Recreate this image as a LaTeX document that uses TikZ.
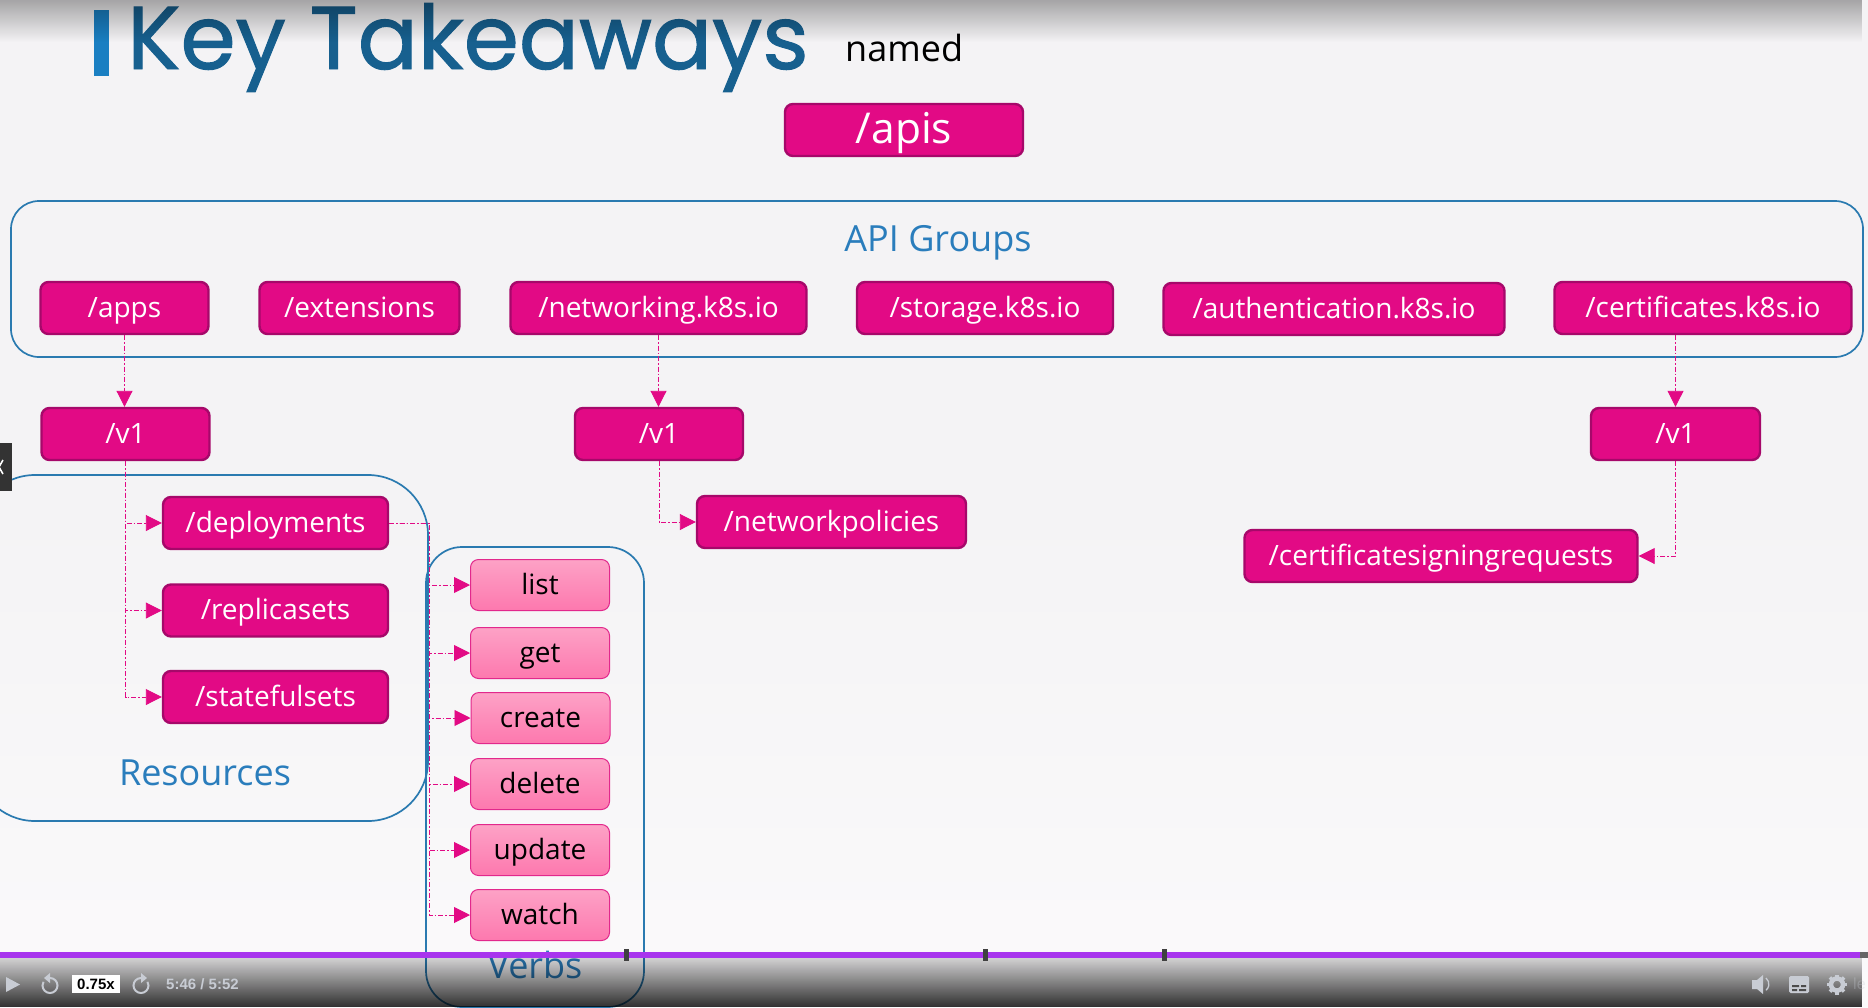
\documentclass[tikz,border=0pt]{standalone}
\usepackage{fontspec}
\setmainfont{Open Sans}
\newfontfamily\titlefont{Poppins}[FakeBold=1.1]
\newfontfamily\uifont{Liberation Sans}
\usetikzlibrary{arrows.meta,fadings}
\definecolor{mag}{HTML}{E20A85}
\definecolor{magedge}{HTML}{A6086A}
\definecolor{pinkedge}{HTML}{E2288C}
\definecolor{pinktop}{HTML}{FDA2C6}
\definecolor{pinkbot}{HTML}{FD78AE}
\definecolor{framecol}{HTML}{2A7AB0}
\definecolor{labelcol}{HTML}{2A7DBC}
\definecolor{titlecol}{HTML}{17608F}
\definecolor{barcol}{HTML}{1A7FC2}
\definecolor{bgcol}{HTML}{F4F3F5}
\definecolor{bglow}{HTML}{FBFAFB}
\definecolor{progress}{HTML}{A835EE}
\definecolor{iconcol}{HTML}{C8CCD4}
\tikzfading[name=ctlfade, top color=transparent!84, bottom color=transparent!19]
\tikzfading[name=topfade, top color=transparent!68, bottom color=transparent!100]
\tikzset{
  box/.style={draw=magedge, fill=mag, line width=2.4pt, rounded corners=8pt, text=white, inner sep=0pt,
    font=\fontsize{28}{34}\selectfont, text height=24pt, text depth=6pt, minimum height=52pt},
  verb/.style={draw=pinkedge, top color=pinktop, bottom color=pinkbot, line width=1pt, rounded corners=8pt, text=black, inner sep=0pt,
    font=\fontsize{28}{34}\selectfont, text height=24pt, text depth=6pt, minimum height=51pt, minimum width=139pt},
  conn/.style={draw=mag, line width=.9pt, dash pattern=on 5pt off 2pt on 1.5pt off 2pt,
    -{Triangle[length=16pt,width=16pt,fill=mag,sep=0pt]}},
  frame/.style={draw=framecol, line width=1.7pt},
  grouplabel/.style={text=labelcol, inner sep=0pt, font=\fontsize{36}{43}\selectfont},
  uitext/.style={inner sep=0pt, font=\uifont\bfseries\fontsize{15}{17}\selectfont},
  icon/.style={draw=iconcol, line width=2pt}
}
\begin{document}
\begin{tikzpicture}[x=1pt,y=-1pt]
\useasboundingbox (0,0) rectangle (1868,1007);
\clip (0,0) rectangle (1868,1007);
% background
\shade[top color=bgcol, bottom color=bglow, middle color=bgcol] (0,0) rectangle (1868,1007);
% title
\fill[barcol] (94,10) rectangle (109,76);
\node[anchor=base west, inner sep=0pt, text=titlecol, font=\titlefont\fontsize{89}{100}\selectfont] (title) at (127,69) {Key Takeaways};
\fill[black, path fading=topfade] (0,0) rectangle (1868,42);
\node[anchor=base west, inner sep=0pt, text=black, font=\fontsize{36}{43}\selectfont] (named) at (845,61) {named};
% containers
\draw[frame, rounded corners=28pt] (11,201) rectangle (1863,357);
\draw[frame, rounded corners=60pt] (-25,475) rectangle (428,821);
\draw[frame, rounded corners=36pt] (426,547) rectangle (644,1007);
\node[grouplabel] (lgroups) at (938,243) {API Groups};
\node[grouplabel, anchor=base] (lres) at (205,785) {Resources};
\node[grouplabel, anchor=base] (lverbs) at (535,978) {Verbs};
% nodes
\node[box, font=\fontsize{42.5}{50}\selectfont, text height=36pt, text depth=9pt, minimum width=238pt] (apis) at (904,130) {/apis};
\node[box, minimum width=168pt] (apps) at (124.5,308) {/apps};
\node[box, minimum width=200pt] (ext) at (359.5,308) {/extensions};
\node[box, minimum width=296pt] (net) at (658.5,308) {/networking.k8s.io};
\node[box, minimum width=256pt] (sto) at (985,308) {/storage.k8s.io};
\node[box, minimum width=341pt] (auth) at (1334,309) {/authentication.k8s.io};
\node[box, minimum width=297pt] (cert) at (1703,308) {/certificates.k8s.io};
\node[box, minimum width=168pt] (v1a) at (125.5,434) {/v1};
\node[box, minimum width=168pt] (v1b) at (659,434) {/v1};
\node[box, minimum width=169pt] (v1c) at (1675.5,434) {/v1};
\node[box, minimum width=225pt] (dep) at (275.5,523) {/deployments};
\node[box, minimum width=225pt] (rep) at (275.5,610.5) {/replicasets};
\node[box, minimum width=225pt] (sta) at (275.5,697) {/statefulsets};
\node[box, minimum width=269pt] (np) at (831.5,522) {/networkpolicies};
\node[box, minimum width=393pt] (csr) at (1441,556) {/certificatesigningrequests};
\node[verb] (list) at (540,585) {list};
\node[verb] (get) at (540,653) {get};
\node[verb] (create) at (540.5,718) {create};
\node[verb] (delete) at (540,784) {delete};
\node[verb] (update) at (540,850) {update};
\node[verb] (watch) at (540,915) {watch};
% connectors
\coordinate (trunk) at (429,523);
\draw[conn] (apps.south) -- (apps.south |- v1a.north);
\draw[conn] (net.south) -- (net.south |- v1b.north);
\draw[conn] (v1c.north |- cert.south) -- (v1c.north);
\draw[conn] (v1a.south) |- (dep.west);
\draw[conn] (v1a.south) |- (rep.west);
\draw[conn] (v1a.south) |- (sta.west);
\draw[conn] (v1b.south) |- (np.west);
\draw[conn] (v1c.south) |- (csr.east);
\foreach \v in {list,get,create,delete,update,watch}
  \draw[conn] (dep.east) -- (trunk) |- (\v.west);
% player overlay
\fill[black, path fading=ctlfade] (0,958) rectangle (1868,1007);
\fill[progress] (0,952) rectangle (1860,958);
\fill[black!60] (1860,952) rectangle (1868,958);
\foreach \tx in {626,985,1164}
  \fill[black!75] (\tx-2.5,949) rectangle (\tx+2.5,961);
% left tab
\fill[black!80] (0,443) rectangle (12,491);
\draw[white, line width=1.6pt] (3,460) -- (-1,467) -- (3,474);
% controls
\fill[iconcol] (6,977) -- (20,984.5) -- (6,992) -- cycle;
\draw[icon] (50,978) arc[start angle=-90, end angle=210, radius=7.5];
\fill[iconcol] (50,973) -- (50,983) -- (44,978) -- cycle;
\fill[white] (72,975) rectangle (120,993);
\node[uitext, text=black] (speed) at (96,984.5) {0.75x};
\draw[icon] (141,978) arc[start angle=270, end angle=-30, radius=7.5];
\fill[iconcol] (141,973) -- (141,983) -- (147,978) -- cycle;
\node[uitext, text=iconcol, anchor=west] (clock) at (166,984.5) {5:46 / 5:52};
% right icons
\fill[iconcol] (1752,980) -- (1757,980) -- (1763,975) -- (1763,994) -- (1757,989) -- (1752,989) -- cycle;
\draw[icon, line width=1.3pt] (1766,978) arc[start angle=-50, end angle=50, radius=8];
\fill[iconcol, rounded corners=1.5pt] (1789,976) rectangle (1809,993);
\fill[black!70] (1792,985) rectangle (1799,987) (1801,985) rectangle (1806,987) (1792,989) rectangle (1797,991) (1799,989) rectangle (1806,991);
\draw[iconcol, line width=4.5pt] (1837,984.5) circle[radius=6];
\foreach \a in {0,45,...,315}
  \draw[iconcol, line width=3.5pt] (1837,984.5) ++(\a:6) -- ++(\a:4);
\node[inner sep=0pt, anchor=west, text=iconcol, opacity=.3, font=\uifont\fontsize{16}{18}\selectfont] (cut) at (1853,984) {le};
\end{tikzpicture}
\end{document}
